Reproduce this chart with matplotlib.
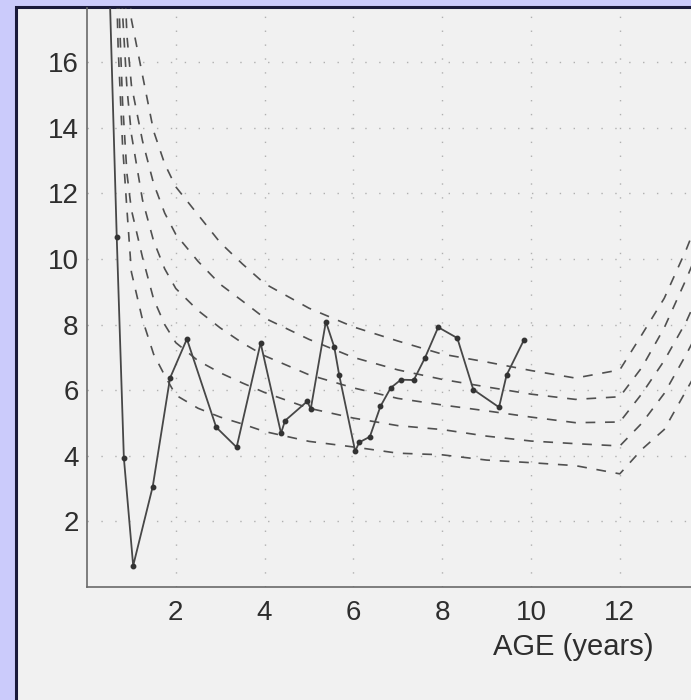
import numpy as np
import matplotlib
matplotlib.use("Agg")
import matplotlib.pyplot as plt
from matplotlib.patches import Rectangle

# measured values (age in years)
age = [0.45, 0.67, 0.83, 1.04, 1.48, 1.87, 2.25, 2.91, 3.37, 3.91, 4.37, 4.46,
       4.96, 5.04, 5.38, 5.57, 5.68, 6.04, 6.13, 6.37, 6.61, 6.84, 7.07, 7.36,
       7.61, 7.91, 8.34, 8.7, 9.28, 9.45, 9.84]
value = [21.0, 10.66, 3.94, 0.65, 3.06, 6.37, 7.56, 4.87, 4.26, 7.44, 4.69, 5.07,
         5.66, 5.43, 8.09, 7.31, 6.46, 4.14, 4.41, 4.58, 5.51, 6.07, 6.32, 6.31,
         6.98, 7.92, 7.59, 6.02, 5.48, 6.46, 7.53]

# reference curves (read at these ages)
ref_age = [0.6, 0.7, 0.8, 0.9, 1.0, 1.25, 1.5, 1.75, 2, 2.5, 3, 3.5, 4, 5, 6, 7,
           8, 9, 10, 11, 12, 12.5, 13, 13.5, 14]
ref_1 = [40, 30, 24, 20, 17.3, 15.6, 13.9, 12.9, 12.2, 11.35, 10.5, 9.85, 9.25,
         8.5, 7.93, 7.5, 7.1, 6.86, 6.6, 6.37, 6.62, 7.7, 8.8, 10.3, 12.0]
ref_2 = [34, 26, 20, 16.8, 15.3, 13.6, 12.3, 11.4, 10.75, 9.93, 9.23, 8.72, 8.2,
         7.55, 7.0, 6.62, 6.33, 6.1, 5.88, 5.72, 5.8, 6.7, 7.9, 9.4, 11.0]
ref_3 = [29, 22, 17.5, 15.2, 13.8, 11.8, 10.55, 9.7, 9.1, 8.43, 7.9, 7.44, 7.05,
         6.47, 6.07, 5.75, 5.55, 5.37, 5.18, 5.01, 5.03, 5.9, 6.9, 8.1, 9.6]
ref_4 = [25, 18.5, 14.8, 12.6, 11.5, 10.05, 8.78, 8.0, 7.45, 6.9, 6.53, 6.22, 5.93,
         5.45, 5.15, 4.92, 4.8, 4.6, 4.45, 4.37, 4.3, 5.0, 5.9, 7.1, 8.4]
ref_5 = [22, 16.5, 13.5, 11.5, 9.6, 8.15, 7.1, 6.45, 5.85, 5.45, 5.18, 4.97, 4.74,
         4.44, 4.27, 4.08, 4.03, 3.87, 3.79, 3.7, 3.45, 4.2, 4.8, 6.0, 7.2]

x_ticks = [2, 4, 6, 8, 10, 12, 14]
y_ticks = [2, 4, 6, 8, 10, 12, 14, 16]


def main():
    plt.rcParams['font.family'] = ['Liberation Sans', 'DejaVu Sans']
    plt.rcParams['lines.scale_dashes'] = False

    W, H = 691, 700
    fig = plt.figure(figsize=(W / 100, H / 100), dpi=100)
    fig.patch.set_facecolor("#cbcbfb")

    # grey panel with dark frame (left + top edges visible), behind the axes
    panel = Rectangle((16 / W, -0.05), 1.1, (H - 7) / H + 0.05,
                      transform=fig.transFigure, facecolor="#f1f1f1",
                      edgecolor="#1a1a3a", linewidth=2.2, zorder=-10)
    fig.patches.append(panel)

    # axes: x=0 at px 87, 44.4 px per year; y=0 at px 587, 32.8 px per unit
    x_max = 14.1
    y_max = (587 - 8) / 32.8
    ax = fig.add_axes([87 / W, (H - 587) / H, x_max * 44.4 / W, (587 - 8) / H])
    ax.set_facecolor("none")
    ax.set_xlim(0, x_max)
    ax.set_ylim(0, y_max)

    for ref in (ref_1, ref_2, ref_3, ref_4, ref_5):
        ax.plot(ref_age, ref, color="#505050", linewidth=1.2,
                dashes=(7, 7), clip_on=True)

    ax.plot(age, value, color="#474747", linewidth=1.3, marker="o",
            markersize=3.2, markerfacecolor="#333333", markeredgecolor="#333333")

    ax.set_xticks(x_ticks)
    ax.set_yticks(y_ticks)
    ax.tick_params(length=0, labelsize=20, labelcolor="#2e2e2e")
    ax.tick_params(axis="x", pad=9)
    ax.tick_params(axis="y", pad=6)
    ax.grid(True, color="#b0b0b0", linewidth=1.0, linestyle=(0, (1, 9)))

    for s in ("top", "right"):
        ax.spines[s].set_visible(False)
    for s in ("left", "bottom"):
        ax.spines[s].set_color("#6a6a6a")
        ax.spines[s].set_linewidth(1.2)

    fig.text(573 / W, 1 - 647 / H, "AGE (years)", ha="center", va="center",
             fontsize=21, color="#2e2e2e")

    fig.savefig("out.png", dpi=100, facecolor=fig.get_facecolor())


if __name__ == "__main__":
    main()
